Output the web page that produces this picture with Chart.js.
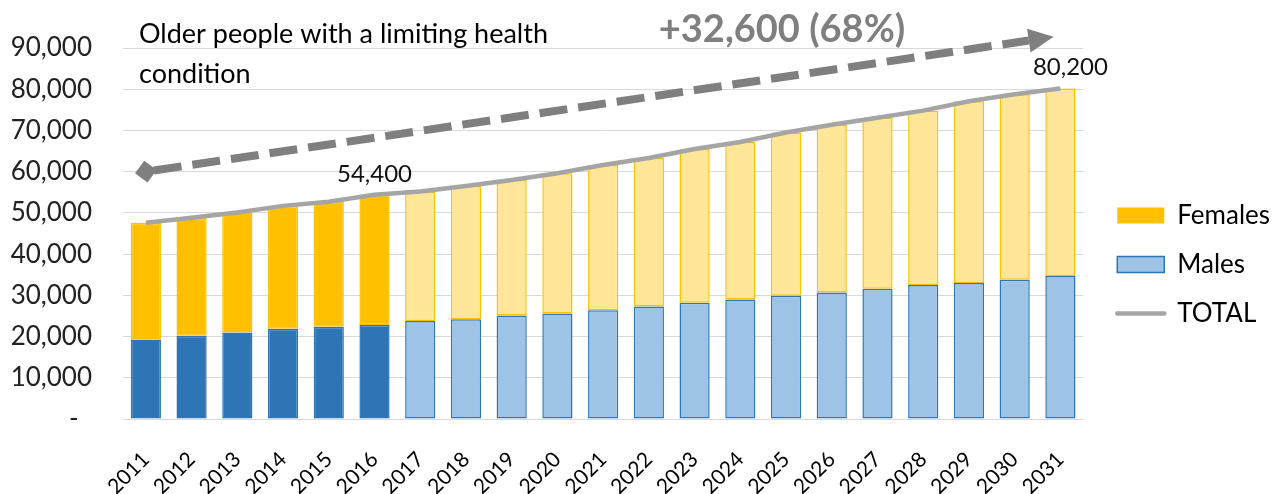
<!DOCTYPE html>
<html lang="en">
<head>
    <meta charset="UTF-8">
    <title>Older people with a limiting health condition</title>
    <script src="https://cdn.jsdelivr.net/npm/chart.js"></script>
    <style>
        body {
            margin: 0;
            background: #fff;
        }

        #wrap {
            width: 1283px;
            height: 494px;
        }
    </style>
</head>
<body>
    <div id="wrap"><canvas id="chart"></canvas></div>

    <script>
        // Values
        const years = ['2011', '2012', '2013', '2014', '2015', '2016', '2017', '2018', '2019', '2020', '2021',
            '2022', '2023', '2024', '2025', '2026', '2027', '2028', '2029', '2030', '2031'];
        const males = [19300, 20200, 21000, 21900, 22400, 22800, 23800, 24200, 25100, 25600, 26400,
            27300, 28200, 29000, 29900, 30700, 31600, 32500, 33000, 33800, 34700];
        const females = [28300, 28600, 29100, 29800, 30300, 31600, 31400, 32300, 32900, 34000, 35200,
            36000, 37300, 38200, 39600, 40700, 41500, 42300, 44100, 45000, 45500];
        const totals = males.map((m, i) => m + females[i]);

        const firstProjectedYear = '2017';
        const labelledYears = ['2016', '2031'];
        const yTickStep = 10000;
        const yMax = 90000;

        const titleLines = ['Older people with a limiting health', 'condition'];
        const changeText = '+32,600 (68%)';
        // arrow ends as [year, value]
        const arrowStart = [2011, 60000];
        const arrowEnd = [2030.85, 92700];

        const FONT = 'Lato';
        const isProjected = y => y >= firstProjectedYear;

        // arrow, headline texts and point labels
        const annotations = {
            id: 'annotations',
            afterLayout(chart) {
                // lift the legend column a little
                chart.legend.bottom -= 13;
            },
            afterDatasetsDraw(chart) {
                const { ctx, scales: { x, y } } = chart;
                const px = yr => x.getPixelForValue(yr - Number(years[0]));

                ctx.save();
                ctx.fillStyle = '#000';
                ctx.font = `27px ${FONT}`;
                ctx.textAlign = 'left';
                ctx.textBaseline = 'alphabetic';
                ctx.fillText(titleLines[0], 139, 43);
                ctx.fillText(titleLines[1], 139, 83);

                ctx.fillStyle = '#7f7f7f';
                ctx.font = `bold 38px ${FONT}`;
                ctx.textAlign = 'center';
                ctx.fillText(changeText, 782, 42);

                // dashed arrow
                const x0 = px(arrowStart[0]), y0 = y.getPixelForValue(arrowStart[1]);
                const x1 = px(arrowEnd[0]), y1 = y.getPixelForValue(arrowEnd[1]);
                const ang = Math.atan2(y1 - y0, x1 - x0);
                const headLen = 25, headHalf = 12;
                ctx.strokeStyle = '#7f7f7f';
                ctx.fillStyle = '#7f7f7f';
                ctx.lineWidth = 8;
                ctx.setLineDash([28, 11]);
                ctx.beginPath();
                ctx.moveTo(x0 + Math.cos(ang) * 8, y0 + Math.sin(ang) * 8);
                ctx.lineTo(x1 - Math.cos(ang) * headLen, y1 - Math.sin(ang) * headLen);
                ctx.stroke();
                ctx.setLineDash([]);

                ctx.translate(x1, y1);
                ctx.rotate(ang);
                ctx.beginPath();
                ctx.moveTo(0, 0);
                ctx.lineTo(-headLen, -headHalf);
                ctx.lineTo(-headLen, headHalf);
                ctx.closePath();
                ctx.fill();
                ctx.setTransform(1, 0, 0, 1, 0, 0);

                ctx.translate(x0, y0);
                ctx.rotate(ang);
                ctx.beginPath();
                ctx.moveTo(-11, 0);
                ctx.lineTo(0, -11);
                ctx.lineTo(11, 0);
                ctx.lineTo(0, 11);
                ctx.closePath();
                ctx.fill();
                ctx.setTransform(1, 0, 0, 1, 0, 0);

                // total labels
                ctx.fillStyle = '#111';
                ctx.font = `24px ${FONT}`;
                ctx.textAlign = 'center';
                labelledYears.forEach((yr, k) => {
                    const i = years.indexOf(yr);
                    const lx = x.getPixelForValue(i) + (k === labelledYears.length - 1 ? 10 : 0);
                    const ly = y.getPixelForValue(totals[i]) - 13;
                    ctx.fillText(totals[i].toLocaleString('en-US'), lx, ly);
                });
                ctx.restore();
            }
        };

        const legendOrder = ['Females', 'Males', 'TOTAL'];

        new Chart(document.getElementById('chart'), {
            type: 'bar',
            data: {
                labels: years,
                datasets: [
                    {
                        label: 'Males',
                        data: males,
                        backgroundColor: years.map(y => isProjected(y) ? '#9dc3e6' : '#2e75b6'),
                        borderColor: '#2e75b6',
                        borderWidth: 1.5,
                        borderSkipped: false,
                        order: 1,
                    },
                    {
                        label: 'Females',
                        data: females,
                        backgroundColor: years.map(y => isProjected(y) ? '#ffe699' : '#ffc000'),
                        borderColor: '#ffc000',
                        borderWidth: 1.5,
                        borderSkipped: false,
                        order: 1,
                    },
                    {
                        type: 'line',
                        label: 'TOTAL',
                        data: totals,
                        borderColor: '#a5a5a5',
                        borderWidth: 4.5,
                        pointRadius: 0,
                        tension: 0,
                        fill: false,
                        stack: 'total',
                        order: 0,
                    },
                ],
            },
            options: {
                responsive: true,
                maintainAspectRatio: false,
                animation: false,
                layout: {
                    padding: { top: 48, right: 3, bottom: 0, left: 0 },
                },
                datasets: {
                    bar: {
                        categoryPercentage: 1,
                        barPercentage: 0.66,
                    },
                },
                scales: {
                    x: {
                        stacked: true,
                        afterFit(scale) { scale.height = 75; },
                        grid: { display: false },
                        border: { display: false },
                        ticks: {
                            minRotation: 45,
                            maxRotation: 45,
                            padding: 20,
                            color: '#000',
                            font: { family: FONT, size: 21 },
                        },
                    },
                    y: {
                        stacked: true,
                        min: 0,
                        max: yMax,
                        afterFit(scale) { scale.width = 123; },
                        grid: { color: '#d9d9d9', drawTicks: false },
                        border: { display: false },
                        ticks: {
                            stepSize: yTickStep,
                            padding: 31,
                            color: '#222',
                            font: { family: FONT, size: 26 },
                            callback: v => v === 0 ? '-  ' : v.toLocaleString('en-US'),
                        },
                    },
                    // empty spacer between plot and legend
                    gap: {
                        position: 'right',
                        display: true,
                        afterFit(scale) { scale.width = 11; },
                        grid: { display: false },
                        border: { display: false },
                        ticks: { display: false },
                    },
                },
                plugins: {
                    tooltip: { enabled: false },
                    legend: {
                        position: 'right',
                        labels: {
                            usePointStyle: true,
                            pointStyleWidth: 47,
                            boxHeight: 16,
                            padding: 23,
                            color: '#000',
                            font: { family: FONT, size: 26 },
                            sort: (a, b) => legendOrder.indexOf(a.text) - legendOrder.indexOf(b.text),
                            generateLabels(chart) {
                                const items = Chart.defaults.plugins.legend.labels.generateLabels(chart);
                                items.forEach(it => {
                                    if (it.text === 'Females') {
                                        Object.assign(it, { pointStyle: 'rect', fillStyle: '#ffc000', lineWidth: 0 });
                                    } else if (it.text === 'Males') {
                                        Object.assign(it, { pointStyle: 'rect', fillStyle: '#9dc3e6', strokeStyle: '#2e75b6', lineWidth: 1.5 });
                                    } else {
                                        Object.assign(it, { pointStyle: 'line', strokeStyle: '#a5a5a5', lineWidth: 4.5, lineCap: 'round' });
                                    }
                                });
                                return items;
                            },
                        },
                    },
                },
            },
            plugins: [annotations],
        });
    </script>
</body>
</html>
